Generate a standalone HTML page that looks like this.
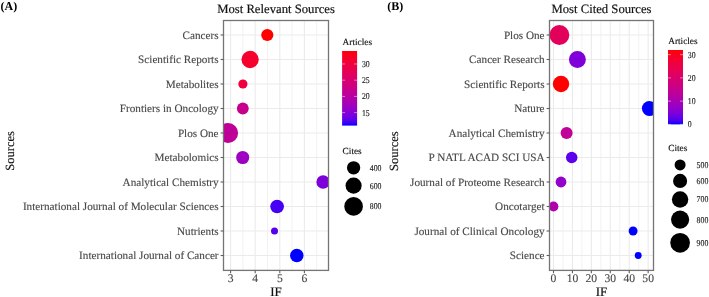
<!DOCTYPE html>
<html><head><meta charset="utf-8"><style>
html,body{margin:0;padding:0;background:#fff;}
svg{display:block;font-family:"Liberation Serif",serif;will-change:transform;text-rendering:geometricPrecision;}
</style></head><body>
<svg width="709" height="297" viewBox="0 0 709 297">
<defs></defs>
<rect x="223.5" y="20.5" width="105.0" height="249.89999999999998" fill="#fff"/>
<line x1="242.90" y1="20.5" x2="242.90" y2="270.4" stroke="#F1F1F1" stroke-width="0.9"/>
<line x1="267.50" y1="20.5" x2="267.50" y2="270.4" stroke="#F1F1F1" stroke-width="0.9"/>
<line x1="292.10" y1="20.5" x2="292.10" y2="270.4" stroke="#F1F1F1" stroke-width="0.9"/>
<line x1="316.70" y1="20.5" x2="316.70" y2="270.4" stroke="#F1F1F1" stroke-width="0.9"/>
<line x1="230.60" y1="20.5" x2="230.60" y2="270.4" stroke="#EBEBEB" stroke-width="1.1"/>
<line x1="255.20" y1="20.5" x2="255.20" y2="270.4" stroke="#EBEBEB" stroke-width="1.1"/>
<line x1="279.80" y1="20.5" x2="279.80" y2="270.4" stroke="#EBEBEB" stroke-width="1.1"/>
<line x1="304.40" y1="20.5" x2="304.40" y2="270.4" stroke="#EBEBEB" stroke-width="1.1"/>
<line x1="223.5" y1="35.00" x2="328.5" y2="35.00" stroke="#EBEBEB" stroke-width="1.1"/>
<line x1="223.5" y1="59.50" x2="328.5" y2="59.50" stroke="#EBEBEB" stroke-width="1.1"/>
<line x1="223.5" y1="84.00" x2="328.5" y2="84.00" stroke="#EBEBEB" stroke-width="1.1"/>
<line x1="223.5" y1="108.50" x2="328.5" y2="108.50" stroke="#EBEBEB" stroke-width="1.1"/>
<line x1="223.5" y1="133.00" x2="328.5" y2="133.00" stroke="#EBEBEB" stroke-width="1.1"/>
<line x1="223.5" y1="157.50" x2="328.5" y2="157.50" stroke="#EBEBEB" stroke-width="1.1"/>
<line x1="223.5" y1="182.00" x2="328.5" y2="182.00" stroke="#EBEBEB" stroke-width="1.1"/>
<line x1="223.5" y1="206.50" x2="328.5" y2="206.50" stroke="#EBEBEB" stroke-width="1.1"/>
<line x1="223.5" y1="231.00" x2="328.5" y2="231.00" stroke="#EBEBEB" stroke-width="1.1"/>
<line x1="223.5" y1="255.50" x2="328.5" y2="255.50" stroke="#EBEBEB" stroke-width="1.1"/>
<clipPath id="cl"><rect x="223.5" y="20.5" width="105.0" height="249.89999999999998"/></clipPath>
<g clip-path="url(#cl)">
<circle cx="267.30" cy="35.00" r="6.10" fill="#FF0000"/>
<circle cx="250.10" cy="59.50" r="8.65" fill="#F6002D"/>
<circle cx="242.90" cy="84.00" r="4.60" fill="#F0003D"/>
<circle cx="242.80" cy="108.50" r="5.90" fill="#C6008D"/>
<circle cx="228.20" cy="133.00" r="9.90" fill="#BF0097"/>
<circle cx="242.70" cy="157.50" r="6.55" fill="#9D00C0"/>
<circle cx="323.10" cy="182.00" r="6.75" fill="#7D00DA"/>
<circle cx="277.10" cy="206.50" r="6.85" fill="#4600F4"/>
<circle cx="274.50" cy="231.00" r="3.50" fill="#5500EF"/>
<circle cx="296.80" cy="255.50" r="6.75" fill="#0000FF"/>
</g>
<rect x="223.5" y="20.5" width="105.0" height="249.89999999999998" fill="none" stroke="#747474" stroke-width="1.3"/>
<line x1="220.60" y1="35.00" x2="223.5" y2="35.00" stroke="#5E5E5E" stroke-width="1.1"/>
<text x="218.60" y="38.60" text-anchor="end" font-size="11.2" fill="#474747" stroke="#474747" stroke-width="0.12">Cancers</text>
<line x1="220.60" y1="59.50" x2="223.5" y2="59.50" stroke="#5E5E5E" stroke-width="1.1"/>
<text x="218.60" y="63.10" text-anchor="end" font-size="11.2" fill="#474747" stroke="#474747" stroke-width="0.12">Scientific Reports</text>
<line x1="220.60" y1="84.00" x2="223.5" y2="84.00" stroke="#5E5E5E" stroke-width="1.1"/>
<text x="218.60" y="87.60" text-anchor="end" font-size="11.2" fill="#474747" stroke="#474747" stroke-width="0.12">Metabolites</text>
<line x1="220.60" y1="108.50" x2="223.5" y2="108.50" stroke="#5E5E5E" stroke-width="1.1"/>
<text x="218.60" y="112.10" text-anchor="end" font-size="11.2" fill="#474747" stroke="#474747" stroke-width="0.12">Frontiers in Oncology</text>
<line x1="220.60" y1="133.00" x2="223.5" y2="133.00" stroke="#5E5E5E" stroke-width="1.1"/>
<text x="218.60" y="136.60" text-anchor="end" font-size="11.2" fill="#474747" stroke="#474747" stroke-width="0.12">Plos One</text>
<line x1="220.60" y1="157.50" x2="223.5" y2="157.50" stroke="#5E5E5E" stroke-width="1.1"/>
<text x="218.60" y="161.10" text-anchor="end" font-size="11.2" fill="#474747" stroke="#474747" stroke-width="0.12">Metabolomics</text>
<line x1="220.60" y1="182.00" x2="223.5" y2="182.00" stroke="#5E5E5E" stroke-width="1.1"/>
<text x="218.60" y="185.60" text-anchor="end" font-size="11.2" fill="#474747" stroke="#474747" stroke-width="0.12">Analytical Chemistry</text>
<line x1="220.60" y1="206.50" x2="223.5" y2="206.50" stroke="#5E5E5E" stroke-width="1.1"/>
<text x="218.60" y="210.10" text-anchor="end" font-size="11.2" fill="#474747" stroke="#474747" stroke-width="0.12">International Journal of Molecular Sciences</text>
<line x1="220.60" y1="231.00" x2="223.5" y2="231.00" stroke="#5E5E5E" stroke-width="1.1"/>
<text x="218.60" y="234.60" text-anchor="end" font-size="11.2" fill="#474747" stroke="#474747" stroke-width="0.12">Nutrients</text>
<line x1="220.60" y1="255.50" x2="223.5" y2="255.50" stroke="#5E5E5E" stroke-width="1.1"/>
<text x="218.60" y="259.10" text-anchor="end" font-size="11.2" fill="#474747" stroke="#474747" stroke-width="0.12">International Journal of Cancer</text>
<line x1="230.60" y1="270.4" x2="230.60" y2="273.29999999999995" stroke="#5E5E5E" stroke-width="1.1"/>
<text x="230.60" y="282.0" text-anchor="middle" font-size="11.6" fill="#474747" stroke="#474747" stroke-width="0.12">3</text>
<line x1="255.20" y1="270.4" x2="255.20" y2="273.29999999999995" stroke="#5E5E5E" stroke-width="1.1"/>
<text x="255.20" y="282.0" text-anchor="middle" font-size="11.6" fill="#474747" stroke="#474747" stroke-width="0.12">4</text>
<line x1="279.80" y1="270.4" x2="279.80" y2="273.29999999999995" stroke="#5E5E5E" stroke-width="1.1"/>
<text x="279.80" y="282.0" text-anchor="middle" font-size="11.6" fill="#474747" stroke="#474747" stroke-width="0.12">5</text>
<line x1="304.40" y1="270.4" x2="304.40" y2="273.29999999999995" stroke="#5E5E5E" stroke-width="1.1"/>
<text x="304.40" y="282.0" text-anchor="middle" font-size="11.6" fill="#474747" stroke="#474747" stroke-width="0.12">6</text>
<text x="276.00" y="13.2" text-anchor="middle" font-size="12.7" fill="#111" stroke="#111" stroke-width="0.18">Most Relevant Sources</text>
<text x="276.00" y="295.6" text-anchor="middle" font-size="13" fill="#111" stroke="#111" stroke-width="0.18">IF</text>
<rect x="549.5" y="20.5" width="104.0" height="249.89999999999998" fill="#fff"/>
<line x1="562.97" y1="20.5" x2="562.97" y2="270.4" stroke="#F1F1F1" stroke-width="0.9"/>
<line x1="581.89" y1="20.5" x2="581.89" y2="270.4" stroke="#F1F1F1" stroke-width="0.9"/>
<line x1="600.83" y1="20.5" x2="600.83" y2="270.4" stroke="#F1F1F1" stroke-width="0.9"/>
<line x1="619.75" y1="20.5" x2="619.75" y2="270.4" stroke="#F1F1F1" stroke-width="0.9"/>
<line x1="638.68" y1="20.5" x2="638.68" y2="270.4" stroke="#F1F1F1" stroke-width="0.9"/>
<line x1="553.50" y1="20.5" x2="553.50" y2="270.4" stroke="#EBEBEB" stroke-width="1.1"/>
<line x1="572.43" y1="20.5" x2="572.43" y2="270.4" stroke="#EBEBEB" stroke-width="1.1"/>
<line x1="591.36" y1="20.5" x2="591.36" y2="270.4" stroke="#EBEBEB" stroke-width="1.1"/>
<line x1="610.29" y1="20.5" x2="610.29" y2="270.4" stroke="#EBEBEB" stroke-width="1.1"/>
<line x1="629.22" y1="20.5" x2="629.22" y2="270.4" stroke="#EBEBEB" stroke-width="1.1"/>
<line x1="648.15" y1="20.5" x2="648.15" y2="270.4" stroke="#EBEBEB" stroke-width="1.1"/>
<line x1="549.5" y1="35.00" x2="653.5" y2="35.00" stroke="#EBEBEB" stroke-width="1.1"/>
<line x1="549.5" y1="59.50" x2="653.5" y2="59.50" stroke="#EBEBEB" stroke-width="1.1"/>
<line x1="549.5" y1="84.00" x2="653.5" y2="84.00" stroke="#EBEBEB" stroke-width="1.1"/>
<line x1="549.5" y1="108.50" x2="653.5" y2="108.50" stroke="#EBEBEB" stroke-width="1.1"/>
<line x1="549.5" y1="133.00" x2="653.5" y2="133.00" stroke="#EBEBEB" stroke-width="1.1"/>
<line x1="549.5" y1="157.50" x2="653.5" y2="157.50" stroke="#EBEBEB" stroke-width="1.1"/>
<line x1="549.5" y1="182.00" x2="653.5" y2="182.00" stroke="#EBEBEB" stroke-width="1.1"/>
<line x1="549.5" y1="206.50" x2="653.5" y2="206.50" stroke="#EBEBEB" stroke-width="1.1"/>
<line x1="549.5" y1="231.00" x2="653.5" y2="231.00" stroke="#EBEBEB" stroke-width="1.1"/>
<line x1="549.5" y1="255.50" x2="653.5" y2="255.50" stroke="#EBEBEB" stroke-width="1.1"/>
<clipPath id="cr"><rect x="549.5" y="20.5" width="104.0" height="249.89999999999998"/></clipPath>
<g clip-path="url(#cr)">
<circle cx="559.40" cy="35.00" r="9.90" fill="#E3005A"/>
<circle cx="577.40" cy="59.50" r="8.45" fill="#7F00D9"/>
<circle cx="561.00" cy="84.00" r="8.20" fill="#FF0000"/>
<circle cx="649.40" cy="108.50" r="7.50" fill="#0000FF"/>
<circle cx="566.60" cy="133.00" r="6.00" fill="#C00097"/>
<circle cx="571.70" cy="157.50" r="5.75" fill="#5D00EC"/>
<circle cx="561.00" cy="182.00" r="5.40" fill="#9200CA"/>
<circle cx="553.50" cy="206.50" r="4.90" fill="#AF00AD"/>
<circle cx="633.10" cy="231.00" r="4.45" fill="#0000FF"/>
<circle cx="638.20" cy="255.50" r="3.45" fill="#0000FF"/>
</g>
<rect x="549.5" y="20.5" width="104.0" height="249.89999999999998" fill="none" stroke="#747474" stroke-width="1.3"/>
<line x1="546.60" y1="35.00" x2="549.5" y2="35.00" stroke="#5E5E5E" stroke-width="1.1"/>
<text x="544.60" y="38.60" text-anchor="end" font-size="11.2" fill="#474747" stroke="#474747" stroke-width="0.12">Plos One</text>
<line x1="546.60" y1="59.50" x2="549.5" y2="59.50" stroke="#5E5E5E" stroke-width="1.1"/>
<text x="544.60" y="63.10" text-anchor="end" font-size="11.2" fill="#474747" stroke="#474747" stroke-width="0.12">Cancer Research</text>
<line x1="546.60" y1="84.00" x2="549.5" y2="84.00" stroke="#5E5E5E" stroke-width="1.1"/>
<text x="544.60" y="87.60" text-anchor="end" font-size="11.2" fill="#474747" stroke="#474747" stroke-width="0.12">Scientific Reports</text>
<line x1="546.60" y1="108.50" x2="549.5" y2="108.50" stroke="#5E5E5E" stroke-width="1.1"/>
<text x="544.60" y="112.10" text-anchor="end" font-size="11.2" fill="#474747" stroke="#474747" stroke-width="0.12">Nature</text>
<line x1="546.60" y1="133.00" x2="549.5" y2="133.00" stroke="#5E5E5E" stroke-width="1.1"/>
<text x="544.60" y="136.60" text-anchor="end" font-size="11.2" fill="#474747" stroke="#474747" stroke-width="0.12">Analytical Chemistry</text>
<line x1="546.60" y1="157.50" x2="549.5" y2="157.50" stroke="#5E5E5E" stroke-width="1.1"/>
<text x="544.60" y="161.10" text-anchor="end" font-size="11.2" fill="#474747" stroke="#474747" stroke-width="0.12">P NATL ACAD SCI USA</text>
<line x1="546.60" y1="182.00" x2="549.5" y2="182.00" stroke="#5E5E5E" stroke-width="1.1"/>
<text x="544.60" y="185.60" text-anchor="end" font-size="11.2" fill="#474747" stroke="#474747" stroke-width="0.12">Journal of Proteome Research</text>
<line x1="546.60" y1="206.50" x2="549.5" y2="206.50" stroke="#5E5E5E" stroke-width="1.1"/>
<text x="544.60" y="210.10" text-anchor="end" font-size="11.2" fill="#474747" stroke="#474747" stroke-width="0.12">Oncotarget</text>
<line x1="546.60" y1="231.00" x2="549.5" y2="231.00" stroke="#5E5E5E" stroke-width="1.1"/>
<text x="544.60" y="234.60" text-anchor="end" font-size="11.2" fill="#474747" stroke="#474747" stroke-width="0.12">Journal of Clinical Oncology</text>
<line x1="546.60" y1="255.50" x2="549.5" y2="255.50" stroke="#5E5E5E" stroke-width="1.1"/>
<text x="544.60" y="259.10" text-anchor="end" font-size="11.2" fill="#474747" stroke="#474747" stroke-width="0.12">Science</text>
<line x1="553.50" y1="270.4" x2="553.50" y2="273.29999999999995" stroke="#5E5E5E" stroke-width="1.1"/>
<text x="553.50" y="282.0" text-anchor="middle" font-size="11.6" fill="#474747" stroke="#474747" stroke-width="0.12">0</text>
<line x1="572.43" y1="270.4" x2="572.43" y2="273.29999999999995" stroke="#5E5E5E" stroke-width="1.1"/>
<text x="572.43" y="282.0" text-anchor="middle" font-size="11.6" fill="#474747" stroke="#474747" stroke-width="0.12">10</text>
<line x1="591.36" y1="270.4" x2="591.36" y2="273.29999999999995" stroke="#5E5E5E" stroke-width="1.1"/>
<text x="591.36" y="282.0" text-anchor="middle" font-size="11.6" fill="#474747" stroke="#474747" stroke-width="0.12">20</text>
<line x1="610.29" y1="270.4" x2="610.29" y2="273.29999999999995" stroke="#5E5E5E" stroke-width="1.1"/>
<text x="610.29" y="282.0" text-anchor="middle" font-size="11.6" fill="#474747" stroke="#474747" stroke-width="0.12">30</text>
<line x1="629.22" y1="270.4" x2="629.22" y2="273.29999999999995" stroke="#5E5E5E" stroke-width="1.1"/>
<text x="629.22" y="282.0" text-anchor="middle" font-size="11.6" fill="#474747" stroke="#474747" stroke-width="0.12">40</text>
<line x1="648.15" y1="270.4" x2="648.15" y2="273.29999999999995" stroke="#5E5E5E" stroke-width="1.1"/>
<text x="648.15" y="282.0" text-anchor="middle" font-size="11.6" fill="#474747" stroke="#474747" stroke-width="0.12">50</text>
<text x="601.50" y="13.2" text-anchor="middle" font-size="12.7" fill="#111" stroke="#111" stroke-width="0.18">Most Cited Sources</text>
<text x="601.50" y="295.6" text-anchor="middle" font-size="13" fill="#111" stroke="#111" stroke-width="0.18">IF</text>
<text x="342.6" y="44.6" font-size="9.3" fill="#111" stroke="#111" stroke-width="0.15">Articles</text>
<linearGradient id="gl" x1="0" y1="1" x2="0" y2="0">
<stop offset="0.000" stop-color="#0000FF"/>
<stop offset="0.050" stop-color="#4B00F3"/>
<stop offset="0.100" stop-color="#6800E7"/>
<stop offset="0.150" stop-color="#7C00DA"/>
<stop offset="0.200" stop-color="#8D00CE"/>
<stop offset="0.250" stop-color="#9A00C3"/>
<stop offset="0.300" stop-color="#A600B7"/>
<stop offset="0.350" stop-color="#B000AB"/>
<stop offset="0.400" stop-color="#BA009F"/>
<stop offset="0.450" stop-color="#C20094"/>
<stop offset="0.500" stop-color="#CA0088"/>
<stop offset="0.550" stop-color="#D1007D"/>
<stop offset="0.600" stop-color="#D70072"/>
<stop offset="0.650" stop-color="#DD0066"/>
<stop offset="0.700" stop-color="#E3005B"/>
<stop offset="0.750" stop-color="#E80050"/>
<stop offset="0.800" stop-color="#ED0044"/>
<stop offset="0.850" stop-color="#F20037"/>
<stop offset="0.900" stop-color="#F6002A"/>
<stop offset="0.950" stop-color="#FB001A"/>
<stop offset="1.000" stop-color="#FF0000"/>
</linearGradient>
<rect x="342.1" y="51" width="15" height="74.6" fill="url(#gl)"/>
<line x1="342.1" y1="112.63" x2="345.1" y2="112.63" stroke="#fff" stroke-width="0.6" stroke-opacity="0.8"/>
<line x1="354.1" y1="112.63" x2="357.1" y2="112.63" stroke="#fff" stroke-width="0.6" stroke-opacity="0.8"/>
<text transform="translate(361.9,115.58) scale(1,1.14)" font-size="7.8" fill="#1a1a1a" stroke="#1a1a1a" stroke-width="0.12">15</text>
<line x1="342.1" y1="96.41" x2="345.1" y2="96.41" stroke="#fff" stroke-width="0.6" stroke-opacity="0.8"/>
<line x1="354.1" y1="96.41" x2="357.1" y2="96.41" stroke="#fff" stroke-width="0.6" stroke-opacity="0.8"/>
<text transform="translate(361.9,99.36) scale(1,1.14)" font-size="7.8" fill="#1a1a1a" stroke="#1a1a1a" stroke-width="0.12">20</text>
<line x1="342.1" y1="80.19" x2="345.1" y2="80.19" stroke="#fff" stroke-width="0.6" stroke-opacity="0.8"/>
<line x1="354.1" y1="80.19" x2="357.1" y2="80.19" stroke="#fff" stroke-width="0.6" stroke-opacity="0.8"/>
<text transform="translate(361.9,83.14) scale(1,1.14)" font-size="7.8" fill="#1a1a1a" stroke="#1a1a1a" stroke-width="0.12">25</text>
<line x1="342.1" y1="63.97" x2="345.1" y2="63.97" stroke="#fff" stroke-width="0.6" stroke-opacity="0.8"/>
<line x1="354.1" y1="63.97" x2="357.1" y2="63.97" stroke="#fff" stroke-width="0.6" stroke-opacity="0.8"/>
<text transform="translate(361.9,66.92) scale(1,1.14)" font-size="7.8" fill="#1a1a1a" stroke="#1a1a1a" stroke-width="0.12">30</text>
<text x="342.6" y="153.8" font-size="9.3" fill="#111" stroke="#111" stroke-width="0.15">Cites</text>
<circle cx="353.6" cy="167.8" r="6.65" fill="#000"/>
<text transform="translate(369.8,170.75) scale(1,1.14)" font-size="7.8" fill="#1a1a1a" stroke="#1a1a1a" stroke-width="0.12">400</text>
<circle cx="353.6" cy="185.6" r="8.05" fill="#000"/>
<text transform="translate(369.8,188.55) scale(1,1.14)" font-size="7.8" fill="#1a1a1a" stroke="#1a1a1a" stroke-width="0.12">600</text>
<circle cx="353.6" cy="206.4" r="9.3" fill="#000"/>
<text transform="translate(369.8,209.35) scale(1,1.14)" font-size="7.8" fill="#1a1a1a" stroke="#1a1a1a" stroke-width="0.12">800</text>
<text x="668.2" y="43.6" font-size="9.3" fill="#111" stroke="#111" stroke-width="0.15">Articles</text>
<linearGradient id="gr" x1="0" y1="1" x2="0" y2="0">
<stop offset="0.000" stop-color="#0000FF"/>
<stop offset="0.050" stop-color="#4B00F3"/>
<stop offset="0.100" stop-color="#6800E7"/>
<stop offset="0.150" stop-color="#7C00DA"/>
<stop offset="0.200" stop-color="#8D00CE"/>
<stop offset="0.250" stop-color="#9A00C3"/>
<stop offset="0.300" stop-color="#A600B7"/>
<stop offset="0.350" stop-color="#B000AB"/>
<stop offset="0.400" stop-color="#BA009F"/>
<stop offset="0.450" stop-color="#C20094"/>
<stop offset="0.500" stop-color="#CA0088"/>
<stop offset="0.550" stop-color="#D1007D"/>
<stop offset="0.600" stop-color="#D70072"/>
<stop offset="0.650" stop-color="#DD0066"/>
<stop offset="0.700" stop-color="#E3005B"/>
<stop offset="0.750" stop-color="#E80050"/>
<stop offset="0.800" stop-color="#ED0044"/>
<stop offset="0.850" stop-color="#F20037"/>
<stop offset="0.900" stop-color="#F6002A"/>
<stop offset="0.950" stop-color="#FB001A"/>
<stop offset="1.000" stop-color="#FF0000"/>
</linearGradient>
<rect x="668" y="50" width="15" height="74.4" fill="url(#gr)"/>
<line x1="668" y1="124.40" x2="671" y2="124.40" stroke="#fff" stroke-width="0.6" stroke-opacity="0.8"/>
<line x1="680" y1="124.40" x2="683" y2="124.40" stroke="#fff" stroke-width="0.6" stroke-opacity="0.8"/>
<text transform="translate(687.8,127.35) scale(1,1.14)" font-size="7.8" fill="#1a1a1a" stroke="#1a1a1a" stroke-width="0.12">0</text>
<line x1="668" y1="101.15" x2="671" y2="101.15" stroke="#fff" stroke-width="0.6" stroke-opacity="0.8"/>
<line x1="680" y1="101.15" x2="683" y2="101.15" stroke="#fff" stroke-width="0.6" stroke-opacity="0.8"/>
<text transform="translate(687.8,104.10) scale(1,1.14)" font-size="7.8" fill="#1a1a1a" stroke="#1a1a1a" stroke-width="0.12">10</text>
<line x1="668" y1="77.90" x2="671" y2="77.90" stroke="#fff" stroke-width="0.6" stroke-opacity="0.8"/>
<line x1="680" y1="77.90" x2="683" y2="77.90" stroke="#fff" stroke-width="0.6" stroke-opacity="0.8"/>
<text transform="translate(687.8,80.85) scale(1,1.14)" font-size="7.8" fill="#1a1a1a" stroke="#1a1a1a" stroke-width="0.12">20</text>
<line x1="668" y1="54.65" x2="671" y2="54.65" stroke="#fff" stroke-width="0.6" stroke-opacity="0.8"/>
<line x1="680" y1="54.65" x2="683" y2="54.65" stroke="#fff" stroke-width="0.6" stroke-opacity="0.8"/>
<text transform="translate(687.8,57.60) scale(1,1.14)" font-size="7.8" fill="#1a1a1a" stroke="#1a1a1a" stroke-width="0.12">30</text>
<text x="668.2" y="151.1" font-size="9.3" fill="#111" stroke="#111" stroke-width="0.15">Cites</text>
<circle cx="680.1" cy="164.9" r="5.5" fill="#000"/>
<text transform="translate(696.6,167.85) scale(1,1.14)" font-size="7.8" fill="#1a1a1a" stroke="#1a1a1a" stroke-width="0.12">500</text>
<circle cx="680.1" cy="180.9" r="7.05" fill="#000"/>
<text transform="translate(696.6,183.85) scale(1,1.14)" font-size="7.8" fill="#1a1a1a" stroke="#1a1a1a" stroke-width="0.12">600</text>
<circle cx="680.1" cy="199.5" r="8.2" fill="#000"/>
<text transform="translate(696.6,202.45) scale(1,1.14)" font-size="7.8" fill="#1a1a1a" stroke="#1a1a1a" stroke-width="0.12">700</text>
<circle cx="680.1" cy="219.6" r="9.1" fill="#000"/>
<text transform="translate(696.6,222.55) scale(1,1.14)" font-size="7.8" fill="#1a1a1a" stroke="#1a1a1a" stroke-width="0.12">800</text>
<circle cx="680.1" cy="242.8" r="9.85" fill="#000"/>
<text transform="translate(696.6,245.75) scale(1,1.14)" font-size="7.8" fill="#1a1a1a" stroke="#1a1a1a" stroke-width="0.12">900</text>
<text transform="translate(14.1,150.9) rotate(-90)" text-anchor="middle" font-size="12.5" fill="#111" stroke="#111" stroke-width="0.15">Sources</text>
<text transform="translate(397.9,151.2) rotate(-90)" text-anchor="middle" font-size="12.5" fill="#111" stroke="#111" stroke-width="0.15">Sources</text>
<text x="0.5" y="9.5" font-size="12" font-weight="bold" fill="#000">(A)</text>
<text x="387.3" y="9.5" font-size="12" font-weight="bold" fill="#000">(B)</text>
</svg>
</body></html>
